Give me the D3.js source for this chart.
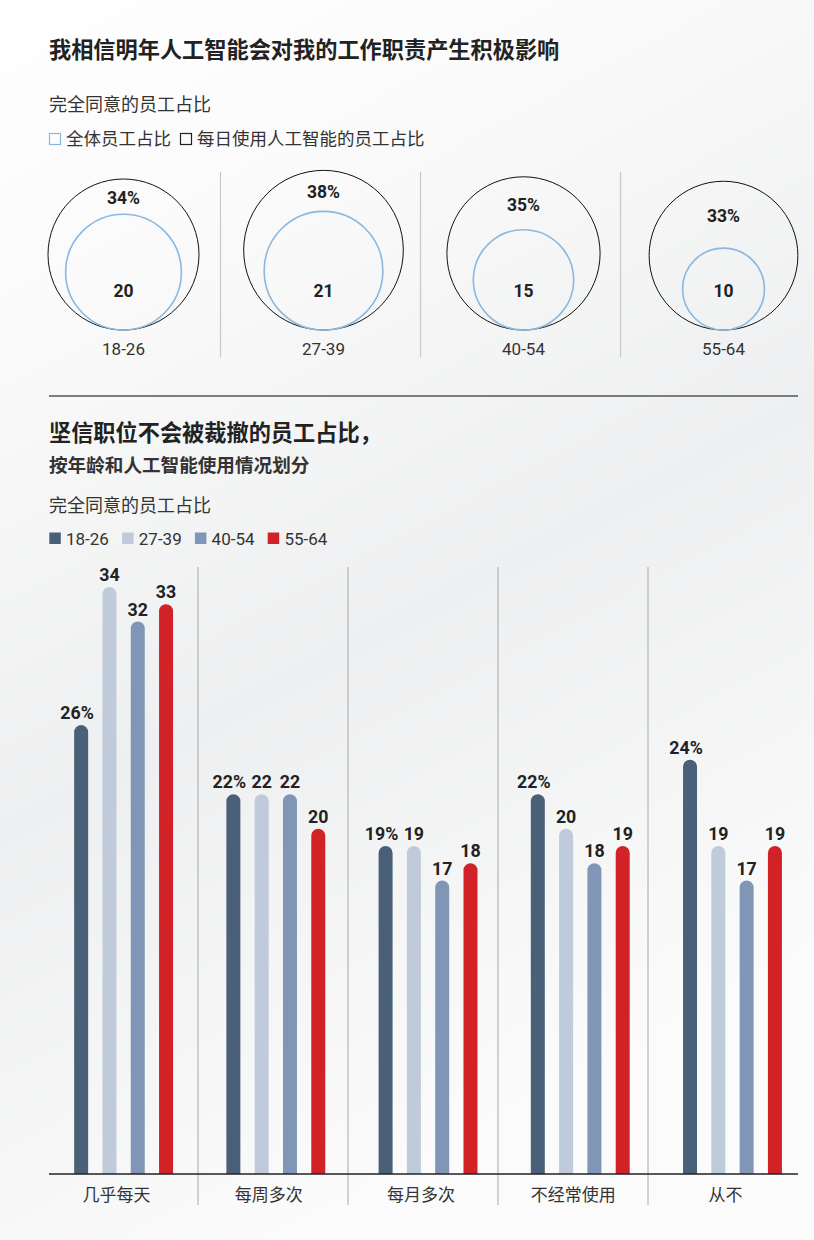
<!DOCTYPE html>
<html><head><meta charset="utf-8">
<script src="https://cdn.jsdelivr.net/npm/d3@7"></script>
<style>
html,body{margin:0;padding:0;}
body{width:814px;height:1240px;overflow:hidden;}
svg{display:block;font-family:"Roboto","Noto Sans CJK SC",sans-serif;}
</style></head>
<body>
<svg id="c" width="814" height="1240"></svg>
<script>
// ---- data ----
const ages = ["18-26", "27-39", "40-54", "55-64"];
const allEmployees = [34, 38, 35, 33];
const dailyAIUsers = [20, 21, 15, 10];
const usageCats = ["几乎每天", "每周多次", "每月多次", "不经常使用", "从不"];
const age1826 = [26, 22, 19, 22, 24];
const age2739 = [34, 22, 19, 20, 19];
const age4054 = [32, 22, 17, 18, 17];
const age5564 = [33, 20, 18, 19, 19];
const seriesColors = ["#4a6079", "#bfcadb", "#8196b6", "#d12327"];

const title1 = "我相信明年人工智能会对我的工作职责产生积极影响";
const subtitle = "完全同意的员工占比";
const legend1 = ["全体员工占比", "每日使用人工智能的员工占比"];
const title2a = "坚信职位不会被裁撤的员工占比，";
const title2b = "按年龄和人工智能使用情况划分";

const svg = d3.select("#c");
const defs = svg.append("defs");
const g = defs.append("linearGradient").attr("id","bg").attr("x1","0").attr("y1","0").attr("x2","0.35").attr("y2","1");
g.append("stop").attr("offset","0%").attr("stop-color","#ffffff");
g.append("stop").attr("offset","25%").attr("stop-color","#fafafa");
g.append("stop").attr("offset","60%").attr("stop-color","#eeeff0");
g.append("stop").attr("offset","100%").attr("stop-color","#fbfbfb");
svg.append("rect").attr("width",814).attr("height",1240).attr("fill","url(#bg)");

const dark = "#222";
const mid = "#333";

// ---- header ----
svg.append("text").attr("x",49).attr("y",50).attr("dominant-baseline","central")
  .attr("font-size",22.2).attr("font-weight",700).attr("fill",dark).text(title1);
svg.append("text").attr("x",49).attr("y",104).attr("dominant-baseline","central")
  .attr("font-size",18).attr("fill",mid).text(subtitle);

// legend 1
const lg1 = svg.append("g");
lg1.append("rect").attr("x",49.5).attr("y",133.5).attr("width",11).attr("height",11)
  .attr("fill","none").attr("stroke","#8ab8e0").attr("stroke-width",1.2);
lg1.append("text").attr("x",66).attr("y",139).attr("dominant-baseline","central")
  .attr("font-size",17.5).attr("fill",mid).text(legend1[0]);
lg1.append("rect").attr("x",180.5).attr("y",133.5).attr("width",11).attr("height",11)
  .attr("fill","none").attr("stroke","#222").attr("stroke-width",1.2);
lg1.append("text").attr("x",197).attr("y",139).attr("dominant-baseline","central")
  .attr("font-size",17.5).attr("fill",mid).text(legend1[1]);

// ---- circles ----
const cx = d3.scaleBand().domain(ages).range([23.5, 823.5]);
const rs = d3.scaleSqrt().domain([0, 34]).range([0, 75.5]);
const baseY = 330;
const circ = svg.append("g");
ages.forEach((a, i) => {
  const x = cx(a) + cx.bandwidth() / 2;
  const ro = rs(allEmployees[i]), ri = rs(dailyAIUsers[i]);
  if (i > 0) {
    circ.append("line").attr("x1", cx(a) - 3).attr("x2", cx(a) - 3)
      .attr("y1", 172).attr("y2", 357).attr("stroke", "#c8c8c8").attr("stroke-width", 1.2);
  }
  circ.append("circle").attr("cx", x).attr("cy", baseY - ro).attr("r", ro)
    .attr("fill", "none").attr("stroke", "#111").attr("stroke-width", 1);
  circ.append("circle").attr("cx", x).attr("cy", baseY - ri).attr("r", ri)
    .attr("fill", "none").attr("stroke", "#8ab8e0").attr("stroke-width", 1.6);
  const topO = baseY - 2 * ro, topI = baseY - 2 * ri;
  circ.append("text").attr("x", x).attr("y", (topO + topI) / 2 + 1.5)
    .attr("text-anchor", "middle").attr("dominant-baseline", "central")
    .attr("font-size", 17.5).attr("font-weight", 700).attr("fill", dark).text(allEmployees[i] + "%");
  circ.append("text").attr("x", x).attr("y", 291)
    .attr("text-anchor", "middle").attr("dominant-baseline", "central")
    .attr("font-size", 17.5).attr("font-weight", 700).attr("fill", dark).text(dailyAIUsers[i]);
  circ.append("text").attr("x", x).attr("y", 349)
    .attr("text-anchor", "middle").attr("dominant-baseline", "central")
    .attr("font-size", 17).attr("fill", mid).text(a);
});

// separator
svg.append("line").attr("x1",49).attr("x2",798).attr("y1",396).attr("y2",396)
  .attr("stroke","#555").attr("stroke-width",1.3);

// ---- second header ----
svg.append("text").attr("x",49).attr("y",433).attr("dominant-baseline","central")
  .attr("font-size",22.2).attr("font-weight",700).attr("fill",dark).text(title2a);
svg.append("text").attr("x",49).attr("y",466).attr("dominant-baseline","central")
  .attr("font-size",18.6).attr("font-weight",700).attr("fill",mid).text(title2b);
svg.append("text").attr("x",49).attr("y",505).attr("dominant-baseline","central")
  .attr("font-size",18).attr("fill",mid).text(subtitle);

// legend 2
const lx = d3.scaleBand().domain(ages).range([49.3, 49.3 + 72.8 * 4]);
ages.forEach((a, i) => {
  svg.append("rect").attr("x", lx(a)).attr("y", 532.5).attr("width", 11.5).attr("height", 11.5)
    .attr("fill", seriesColors[i]);
  svg.append("text").attr("x", lx(a) + 16.7).attr("y", 538.5).attr("dominant-baseline", "central")
    .attr("font-size", 17).attr("fill", mid).text(a);
});

// ---- bars ----
const series = [age1826, age2739, age4054, age5564];
const x0 = d3.scaleBand().domain(usageCats).range([47.5, 808.6]);
const x1 = d3.scaleBand().domain(ages).range([19.5, 132.7]);
const xDiv = d3.scaleBand().domain(usageCats).range([48, 798]);
const y = d3.scaleLinear().domain([0, 34]).range([1174, 587]);
const bw = 14, r = bw / 2;

const bars = svg.append("g");
usageCats.forEach((c, j) => {
  if (j > 0) {
    bars.append("line").attr("x1", xDiv(c)).attr("x2", xDiv(c)).attr("y1", 567).attr("y2", 1205)
      .attr("stroke", "#a8a8a8").attr("stroke-width", 1);
  }
});
usageCats.forEach((c, j) => {
  ages.forEach((a, i) => {
    const v = series[i][j];
    const xc = x0(c) + x1(a) + x1.bandwidth() / 2;
    const xl = xc - bw / 2, top = y(v), base = y(0);
    const p = `M${xl},${base}V${top + r}A${r},${r} 0 0 1 ${xl + bw},${top + r}V${base}Z`;
    bars.append("path").attr("d", p).attr("fill", seriesColors[i]);
    bars.append("text").attr("x", i === 0 ? xc - 4 : xc).attr("y", top - 6)
      .attr("text-anchor", "middle").attr("font-size", 17.8).attr("font-weight", 700)
      .attr("fill", dark).text(i === 0 ? v + "%" : v);
  });
  bars.append("text").attr("x", x0(c) + x0.bandwidth() / 2 - 7).attr("y", 1195)
    .attr("text-anchor", "middle").attr("dominant-baseline", "central")
    .attr("font-size", 17).attr("fill", mid).text(c);
});
bars.append("line").attr("x1", 49).attr("x2", 798).attr("y1", y(0)).attr("y2", y(0))
  .attr("stroke", "#222").attr("stroke-width", 1.5);
</script>
</body></html>
